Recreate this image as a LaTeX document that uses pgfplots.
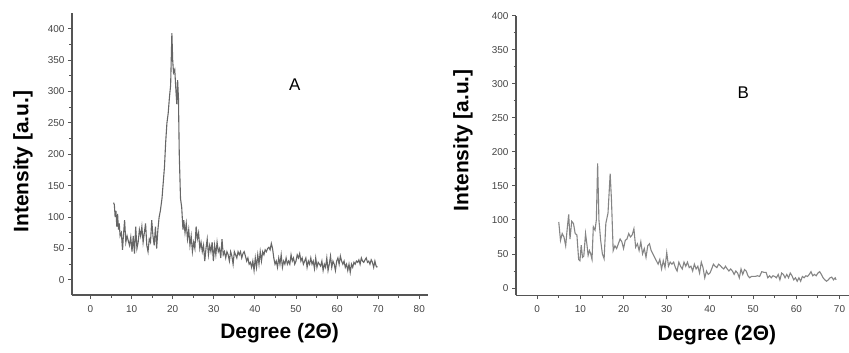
\documentclass[border=0pt]{standalone}
\usepackage{pgfplots}
\pgfplotsset{compat=1.18}
\usepackage{fontspec}
\setmainfont{Liberation Sans}
\definecolor{axc}{HTML}{555555}
\definecolor{tlc}{HTML}{444444}
\definecolor{lineA}{HTML}{666666}
\definecolor{lineB}{HTML}{858585}
\pgfplotsset{
  xrdstyle/.style={
    scale only axis,
    axis lines=left,
    axis line style={-, color=axc, line width=1.2bp},
    tick style={color=axc, line width=0.9bp},
    tick align=outside,
    major tick length=4bp,
    minor tick length=2.5bp,
    minor tick num=1,
    /pgf/number format/assume math mode=true,
    tick label style={font=\fontsize{10}{11}\selectfont, color=tlc},
    xticklabel style={yshift=-3bp},
    label style={font=\fontsize{21}{24}\selectfont\bfseries},
    clip=false,
  }
}
\begin{document}
\begin{tikzpicture}
\useasboundingbox (0,0) rectangle (849bp,353bp);
% Panel A
\begin{axis}[xrdstyle,
  at={(72bp,58bp)}, anchor=south west,
  width=355.5bp, height=282bp,
  xmin=-4.5, xmax=82, ymin=-24, ymax=425,
  xtick={0,10,...,80}, ytick={0,50,...,400},
  ylabel={Intensity [a.u.]},
  ylabel style={at={(rel axis cs:-0.138,0.473)}, anchor=center},
  xlabel={Degree (2Θ)},
  xlabel style={at={(rel axis cs:0.584,-0.135)}, anchor=center},
]
\addplot[color=lineA, line width=1.1bp, mark=none] coordinates {
(5.6,123)(5.8,120)(6.0,100)(6.2,110)(6.4,85)(6.6,105)(6.8,80)(7.0,90)(7.2,70)(7.5,75)(7.8,48)(8.0,70)(8.3,95)(8.6,60)(8.9,70)(9.2,62)(9.5,55)(9.8,68)(10.1,45)(10.4,70)(10.7,42)(11.0,85)(11.3,50)(11.6,60)(11.9,80)(12.2,70)(12.5,85)(12.8,60)(13.1,75)(13.4,90)(13.7,55)(14.0,45)(14.3,65)(14.6,60)(14.9,95)(15.2,70)(15.5,55)(15.8,85)(16.1,50)(16.4,80)(16.7,100)(17.0,110)(17.4,130)(17.7,155)(18.0,180)(18.3,220)(18.6,250)(18.9,265)(19.2,290)(19.5,310)(19.8,393)(20.0,350)(20.2,330)(20.5,335)(20.8,300)(21.0,280)(21.2,318)(21.4,290)(21.6,200)(21.9,130)(22.2,115)(22.5,80)(22.7,95)(23.0,75)(23.3,90)(23.6,65)(23.9,80)(24.2,55)(24.5,70)(24.8,45)(25.1,60)(25.4,50)(25.7,85)(26.0,65)(26.3,75)(26.6,50)(26.9,60)(27.2,45)(27.5,55)(27.8,30)(28.1,50)(28.4,65)(28.7,40)(29.0,55)(29.3,45)(29.6,60)(29.9,30)(30.2,55)(30.5,40)(30.8,60)(31.1,45)(31.4,50)(31.7,35)(32.0,65)(32.3,40)(32.6,45)(32.9,35)(33.2,45)(33.5,40)(33.8,30)(34.1,45)(34.4,38)(34.7,25)(35.0,45)(35.3,40)(35.6,35)(35.9,45)(36.2,40)(36.5,45)(36.8,35)(37.1,42)(37.4,45)(37.7,38)(38.0,30)(38.3,35)(38.6,25)(38.9,28)(39.2,20)(39.5,30)(39.8,15)(40.1,35)(40.4,20)(40.7,40)(41.0,25)(41.3,45)(41.6,30)(41.9,45)(42.2,40)(42.5,48)(42.8,45)(43.1,50)(43.4,52)(43.7,48)(44.0,58)(44.3,50)(44.6,35)(44.9,25)(45.2,30)(45.5,20)(45.8,35)(46.1,25)(46.4,40)(46.7,20)(47.0,30)(47.3,25)(47.6,35)(47.9,25)(48.2,30)(48.5,25)(48.8,40)(49.1,30)(49.4,35)(49.7,25)(50.0,30)(50.3,40)(50.6,35)(50.9,42)(51.2,30)(51.5,35)(51.8,25)(52.1,30)(52.4,35)(52.7,20)(53.0,30)(53.3,25)(53.6,35)(53.9,25)(54.2,30)(54.5,18)(54.8,35)(55.1,20)(55.4,28)(55.7,25)(56.0,22)(56.3,30)(56.6,15)(56.9,25)(57.2,20)(57.5,35)(57.8,15)(58.1,25)(58.4,38)(58.7,20)(59.0,30)(59.3,25)(59.6,15)(59.9,30)(60.2,35)(60.5,25)(60.8,38)(61.1,30)(61.4,25)(61.7,30)(62.0,20)(62.3,25)(62.6,15)(62.9,25)(63.2,12)(63.5,25)(63.8,20)(64.1,28)(64.4,25)(64.7,30)(65.0,28)(65.3,32)(65.6,25)(65.9,35)(66.2,30)(66.5,28)(66.8,32)(67.1,35)(67.4,28)(67.7,30)(68.0,25)(68.3,32)(68.6,28)(68.9,20)(69.2,30)(69.5,22)(69.8,20)
};
\node[font=\fontsize{17}{20}\selectfont] at (axis cs:49.7,311) {A};
\end{axis}
% Panel B
\begin{axis}[xrdstyle,
  at={(516bp,57.7bp)}, anchor=south west,
  width=333bp, height=279.6bp,
  xmin=-4.9, xmax=72.2, ymin=-10.7, ymax=400,
  xtick={0,10,...,70}, ytick={0,50,...,400},
  ylabel={Intensity [a.u.]},
  ylabel style={at={(rel axis cs:-0.159,0.555)}, anchor=center},
  xlabel={Degree (2Θ)},
  xlabel style={at={(rel axis cs:0.603,-0.142)}, anchor=center},
]
\addplot[color=lineB, line width=1.1bp, mark=none] coordinates {
(5.0,97)(5.4,70)(5.8,80)(6.2,75)(6.6,62)(7.0,90)(7.3,108)(7.6,72)(8.0,98)(8.4,95)(8.8,80)(9.2,78)(9.6,42)(9.9,40)(10.2,63)(10.5,45)(10.8,47)(11.2,80)(11.5,65)(11.8,48)(12.1,55)(12.4,50)(12.7,42)(13.0,90)(13.4,85)(13.7,100)(14.0,183)(14.3,100)(14.7,70)(15.1,50)(15.5,43)(15.9,95)(16.4,110)(16.9,168)(17.2,130)(17.6,55)(18.0,62)(18.4,58)(18.8,65)(19.2,72)(19.6,68)(20.0,58)(20.4,70)(20.8,72)(21.2,80)(21.6,75)(22.0,78)(22.4,87)(22.8,60)(23.2,65)(23.6,55)(24.0,68)(24.4,50)(24.8,58)(25.2,45)(25.6,62)(26.0,65)(26.4,55)(26.8,50)(27.2,45)(27.6,40)(28.0,35)(28.4,42)(28.8,28)(29.2,40)(29.6,30)(30.0,52)(30.4,32)(30.8,38)(31.2,35)(31.6,38)(32.0,30)(32.4,25)(32.8,38)(33.2,32)(33.6,28)(34.0,38)(34.4,32)(34.8,38)(35.2,30)(35.6,32)(36.0,25)(36.4,35)(36.8,28)(37.2,32)(37.6,22)(38.0,38)(38.4,30)(38.8,15)(39.2,25)(39.6,20)(40.0,22)(40.4,28)(40.8,35)(41.2,32)(41.6,30)(42.0,35)(42.4,33)(42.8,30)(43.2,28)(43.6,32)(44.0,28)(44.4,25)(44.8,28)(45.2,25)(45.6,20)(46.0,25)(46.4,22)(46.8,15)(47.2,28)(47.6,20)(48.0,27)(48.4,25)(48.8,18)(49.2,15)(49.6,17)(50.0,17)(50.5,17)(51.0,18)(51.5,17)(52.0,24)(52.5,23)(53.0,23)(53.4,15)(53.8,18)(54.2,15)(54.6,18)(55.0,17)(55.4,15)(55.8,20)(56.2,12)(56.6,22)(57.0,20)(57.4,15)(57.8,20)(58.2,15)(58.6,22)(59.0,18)(59.4,12)(59.8,15)(60.2,10)(60.6,15)(61.0,10)(61.4,17)(61.8,15)(62.2,18)(62.6,17)(63.0,20)(63.4,24)(63.8,18)(64.2,20)(64.6,18)(65.0,22)(65.4,24)(65.8,20)(66.2,15)(66.6,12)(67.0,10)(67.4,12)(67.8,15)(68.2,16)(68.6,12)(69.0,15)(69.2,12)
};
\node[font=\fontsize{17}{20}\selectfont] at (axis cs:47.7,287) {B};
\end{axis}
\end{tikzpicture}
\end{document}
